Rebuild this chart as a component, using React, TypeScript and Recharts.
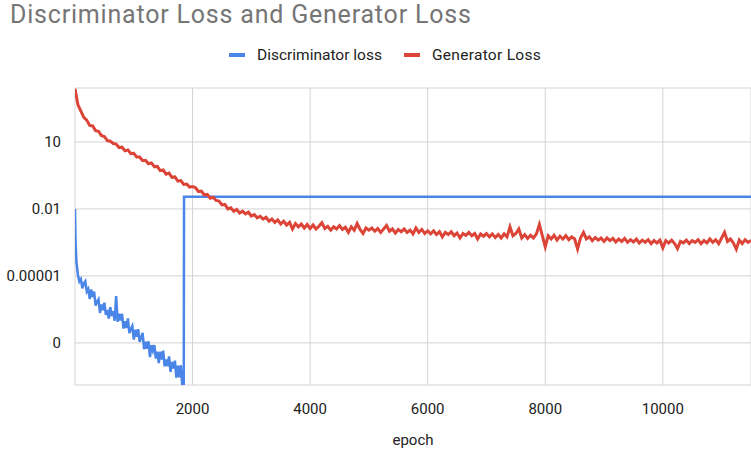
import { LineChart, Line, XAxis, YAxis, CartesianGrid } from 'recharts'

// generator loss (every 50 epochs)
const genEpochs = [
  0, 50, 100, 150, 200, 250, 300, 350, 400, 450, 500, 550, 600, 650, 700, 750, 800, 850, 900, 950,
  1000, 1050, 1100, 1150, 1200, 1250, 1300, 1350, 1400, 1450, 1500, 1550, 1600, 1650, 1700, 1750, 1800, 1850, 1900, 1950,
  2000, 2050, 2100, 2150, 2200, 2250, 2300, 2350, 2400, 2450, 2500, 2550, 2600, 2650, 2700, 2750, 2800, 2850, 2900, 2950,
  3000, 3050, 3100, 3150, 3200, 3250, 3300, 3350, 3400, 3450, 3500, 3550, 3600, 3650, 3700, 3750, 3800, 3850, 3900, 3950,
  4000, 4050, 4100, 4150, 4200, 4250, 4300, 4350, 4400, 4450, 4500, 4550, 4600, 4650, 4700, 4750, 4800, 4850, 4900, 4950,
  5000, 5050, 5100, 5150, 5200, 5250, 5300, 5350, 5400, 5450, 5500, 5550, 5600, 5650, 5700, 5750, 5800, 5850, 5900, 5950,
  6000, 6050, 6100, 6150, 6200, 6250, 6300, 6350, 6400, 6450, 6500, 6550, 6600, 6650, 6700, 6750, 6800, 6850, 6900, 6950,
  7000, 7050, 7100, 7150, 7200, 7250, 7300, 7350, 7400, 7450, 7500, 7550, 7600, 7650, 7700, 7750, 7800, 7850, 7900, 7950,
  8000, 8050, 8100, 8150, 8200, 8250, 8300, 8350, 8400, 8450, 8500, 8550, 8600, 8650, 8700, 8750, 8800, 8850, 8900, 8950,
  9000, 9050, 9100, 9150, 9200, 9250, 9300, 9350, 9400, 9450, 9500, 9550, 9600, 9650, 9700, 9750, 9800, 9850, 9900, 9950,
  10000, 10050, 10100, 10150, 10200, 10250, 10300, 10350, 10400, 10450, 10500, 10550, 10600, 10650, 10700, 10750, 10800, 10850, 10900, 10950,
  11000, 11050, 11100, 11150, 11200, 11250, 11300, 11350, 11400, 11450, 11500,
]
const genLoss = [
  2400, 460, 240, 125, 95, 55, 52, 32, 30, 19, 17.5, 11.5, 10.8, 8.5, 8.0, 5.6, 5.8, 4.0, 4.4, 3.0,
  3.1, 2.1, 2.1, 1.45, 1.5, 1.05, 1.15, 0.78, 0.8, 0.52, 0.56, 0.36, 0.4, 0.26, 0.27, 0.175, 0.185, 0.125, 0.13, 0.095,
  0.1, 0.089, 0.06, 0.063, 0.042, 0.045, 0.03, 0.033, 0.024, 0.0224, 0.015, 0.0158, 0.01, 0.0112, 0.0079, 0.0095, 0.0066, 0.0079, 0.006, 0.0071,
  0.0048, 0.0056, 0.004, 0.0047, 0.0035, 0.0042, 0.0028, 0.0035, 0.0025, 0.0032, 0.0021, 0.0028, 0.0019, 0.0025, 0.00126, 0.0022, 0.00158, 0.0021, 0.0014, 0.002,
  0.00132, 0.0019, 0.00126, 0.00166, 0.0024, 0.00132, 0.00166, 0.00112, 0.00158, 0.00126, 0.0018, 0.0012, 0.0015, 0.00089, 0.00158, 0.00112, 0.0022, 0.0012, 0.00079, 0.0014,
  0.00112, 0.0014, 0.001, 0.00132, 0.00089, 0.00126, 0.0018, 0.001, 0.00126, 0.00083, 0.0012, 0.00095, 0.00126, 0.00089, 0.00112, 0.00076, 0.0014, 0.00089, 0.0012, 0.00079,
  0.00105, 0.00076, 0.00105, 0.00071, 0.00095, 0.00056, 0.00089, 0.00071, 0.00095, 0.00063, 0.00083, 0.0005, 0.00079, 0.00066, 0.00089, 0.00063, 0.00079, 0.00045, 0.00076, 0.0006,
  0.00079, 0.00056, 0.00076, 0.00052, 0.00071, 0.0005, 0.00076, 0.00056, 0.00158, 0.00063, 0.00079, 0.00126, 0.0005, 0.00071, 0.00048, 0.00066, 0.0005, 0.00076, 0.002, 0.00063,
  0.0002, 0.00063, 0.00045, 0.00066, 0.0004, 0.0006, 0.00045, 0.00063, 0.00042, 0.00056, 0.00045, 0.00016, 0.0005, 0.00089, 0.00045, 0.00056, 0.00038, 0.00052, 0.0004, 0.0005,
  0.00035, 0.0005, 0.00038, 0.00048, 0.00033, 0.00045, 0.00035, 0.00048, 0.00032, 0.00042, 0.00033, 0.00045, 0.0003, 0.0004, 0.00032, 0.00042, 0.00028, 0.00038, 0.0003, 0.0004,
  0.00018, 0.00038, 0.0003, 0.0004, 0.00028, 0.000166, 0.00035, 0.0003, 0.0004, 0.00028, 0.00038, 0.00032, 0.00042, 0.00028, 0.00038, 0.0003, 0.00045, 0.00032, 0.00042, 0.00028,
  0.0005, 0.00089, 0.00035, 0.00045, 0.0003, 0.000158, 0.0004, 0.00028, 0.00042, 0.00032, 0.00038,
]

// discriminator loss: noisy fall, then a flat line after ~1850 epochs
const discEpochs = [
  0, 10, 25, 50, 75, 100, 125, 150, 175, 200, 225, 250, 275, 300, 325, 350, 375, 400, 425, 450,
  475, 500, 525, 550, 575, 600, 625, 650, 675, 700, 725, 750, 775, 800, 825, 850, 875, 900, 925, 950,
  975, 1000, 1025, 1050, 1075, 1100, 1125, 1150, 1175, 1200, 1225, 1250, 1275, 1300, 1325, 1350, 1375, 1400, 1425, 1450,
  1475, 1500, 1525, 1550, 1575, 1600, 1625, 1650, 1675, 1700, 1725, 1750, 1775, 1800, 1825, 1840, 1850, 1855, 11500,
]
const discLoss = [
  0.01, 3.2e-4, 4e-5, 1.1e-5, 5.6e-6, 7.1e-6, 2.75e-6, 4.7e-6, 5.75e-6, 2e-6, 2.6e-6, 9.3e-7, 2.45e-6, 1.12e-6, 2e-6, 4.7e-7, 6.9e-7, 8.9e-7, 2.2e-7, 5.2e-7,
  2.9e-7, 6.3e-7, 1.8e-7, 2.95e-7, 1.23e-7, 4e-7, 1.6e-7, 2.6e-7, 9.8e-8, 1.26e-6, 8.9e-8, 2e-7, 1e-7, 2e-7, 4.4e-8, 9.3e-8, 4.6e-8, 1.26e-7, 2.75e-8, 4.2e-8,
  5.75e-8, 1.4e-8, 3.9e-8, 1.86e-8, 4.1e-8, 1.12e-8, 1.66e-8, 2.8e-8, 5.2e-9, 1.12e-8, 5.5e-9, 1.17e-8, 2.3e-9, 7.9e-9, 4.5e-9, 7.9e-9, 2e-9, 4e-9, 1.26e-9, 4e-9,
  1.8e-9, 4.5e-9, 8.9e-10, 1.8e-9, 8.9e-10, 2.5e-9, 5e-10, 1.4e-9, 7.1e-10, 1.6e-9, 2.75e-10, 9.5e-10, 2.9e-10, 1e-9, 1.2e-10, 5.5e-10, 8e-11, 0.035, 0.035,
]

const xTicks = [2000, 4000, 6000, 8000, 10000]
const yTicks = [1e-8, 1e-5, 0.01, 10]
const yTickLabels = ['0', '0.00001', '0.01', '10']

const genData = genEpochs.map((epoch, i) => ({ epoch, loss: genLoss[i] }))
const discData = discEpochs.map((epoch, i) => ({ epoch, loss: discLoss[i] }))

const FONT = 'Roboto, Arial, sans-serif'
const BLUE = '#4a86e8'
const RED = '#db4437'

export default function App() {
  return (
    <div style={{ position: 'absolute', left: 0, top: 0, width: 751, height: 455, fontFamily: FONT, background: '#fff' }}>
      <div style={{ position: 'absolute', left: 10, top: 0, fontSize: 25, letterSpacing: 0.8, color: '#757575', whiteSpace: 'nowrap' }}>
        Discriminator Loss and Generator Loss
      </div>
      <div style={{ position: 'absolute', top: 46, left: 229, display: 'flex', fontSize: 15.5, color: '#222', whiteSpace: 'nowrap' }}>
        <div style={{ display: 'flex', alignItems: 'center', marginRight: 22 }}>
          <span style={{ width: 16, height: 4, background: BLUE, marginRight: 12 }} />
          Discriminator loss
        </div>
        <div style={{ display: 'flex', alignItems: 'center', letterSpacing: 0.3 }}>
          <span style={{ width: 16, height: 4, background: RED, marginRight: 12 }} />
          Generator Loss
        </div>
      </div>
      <LineChart width={751} height={455} margin={{ top: 88, right: 0, bottom: 0, left: 0 }}>
        <CartesianGrid stroke="#d3d3d3" ticks={yTicks} />
        <XAxis
          dataKey="epoch"
          type="number"
          domain={[0, 11500]}
          ticks={xTicks}
          allowDataOverflow
          axisLine={false}
          tickLine={false}
          tickMargin={12}
          height={70}
          tick={{ fill: '#222', fontSize: 15, fontFamily: FONT }}
          label={{ value: 'epoch', position: 'insideBottom', offset: 10, fill: '#222', fontSize: 15, fontFamily: FONT }}
        />
        <YAxis
          type="number"
          scale="log"
          domain={[1.3e-10, 2600]}
          ticks={yTicks}
          allowDataOverflow
          axisLine={false}
          tickLine={false}
          tickMargin={8}
          width={75}
          tick={{ fill: '#222', fontSize: 15, fontFamily: FONT }}
          tickFormatter={(v: number) => yTickLabels[yTicks.indexOf(v)] ?? String(v)}
        />
        <Line data={discData} dataKey="loss" stroke={BLUE} strokeWidth={2.5} dot={false} isAnimationActive={false} />
        <Line data={genData} dataKey="loss" stroke={RED} strokeWidth={3} dot={false} isAnimationActive={false} />
      </LineChart>
    </div>
  )
}
